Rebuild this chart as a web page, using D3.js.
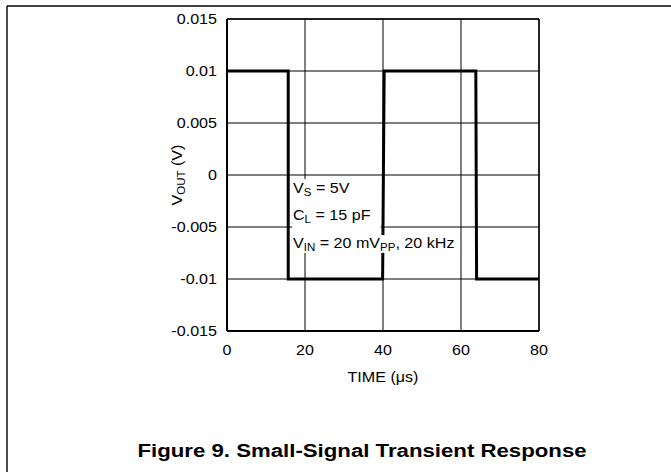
<!DOCTYPE html>
<html>
<head>
<meta charset="utf-8">
<script src="https://cdn.jsdelivr.net/npm/d3@7"></script>
<style>
  body { margin: 0; background: #fff; }
  svg text { font-family: "Liberation Sans", Arial, sans-serif; fill: #000; }
</style>
</head>
<body>
<svg id="chart" width="671" height="472"></svg>
<script>
// waveform
const timeUs = [0, 15.7, 15.7, 39.9, 40.3, 63.8, 64.0, 80];
const voutV = [0.01, 0.01, -0.01, -0.01, 0.01, 0.01, -0.01, -0.01];
const xTicks = [0, 20, 40, 60, 80];
const yTicks = [-0.015, -0.01, -0.005, 0, 0.005, 0.01, 0.015];
const yTickLabels = ['-0.015', '-0.01', '-0.005', '0', '0.005', '0.01', '0.015'];
const noteLines = [
  [['V', ''], ['S', 'sub'], [' = 5V', '']],
  [['C', ''], ['L', 'sub'], [' = 15 pF', '']],
  [['V', ''], ['IN', 'sub'], [' = 20 mV', ''], ['PP', 'sub'], [', 20 kHz', '']]
];

var margin = {top: 19, right: 132, bottom: 141, left: 227},
  width = 671 - margin.left - margin.right,
  height = 472 - margin.top - margin.bottom;

// the source figure's type is a bit wider than Liberation Sans
const stretch = 1.15;

const svg = d3.select('#chart');

// text at (px,py), widened around its anchor
function label(parent, px, py, str, size, anchor) {
  return parent.append('g')
    .attr('transform', `translate(${px},${py}) scale(${stretch},1)`)
    .append('text')
    .attr('text-anchor', anchor || 'start')
    .attr('font-size', size)
    .text(str);
}

// page frame
svg.append('line').attr('x1', 7).attr('x2', 671).attr('y1', 6).attr('y2', 6)
  .attr('stroke', '#000').attr('stroke-width', 1.4);
svg.append('line').attr('x1', 7).attr('x2', 7).attr('y1', 6).attr('y2', 472)
  .attr('stroke', '#000').attr('stroke-width', 1.4);

const g = svg.append('g').attr('transform', `translate(${margin.left},${margin.top})`);

const x = d3.scaleLinear().domain([0, 80]).range([0, width]);
const y = d3.scaleLinear().domain([-0.015, 0.015]).range([height, 0]);

// grid
g.selectAll('.vgrid').data(xTicks).join('line')
  .attr('x1', d => x(d)).attr('x2', d => x(d)).attr('y1', 0).attr('y2', height)
  .attr('stroke', '#000').attr('stroke-width', 1);
g.selectAll('.hgrid').data(yTicks).join('line')
  .attr('x1', 0).attr('x2', width).attr('y1', d => y(d)).attr('y2', d => y(d))
  .attr('stroke', '#000').attr('stroke-width', 1);

// frame: left and bottom heavier
g.append('line').attr('x1', 0).attr('x2', 0).attr('y1', 0).attr('y2', height)
  .attr('stroke', '#000').attr('stroke-width', 2);
g.append('line').attr('x1', 0).attr('x2', width).attr('y1', height).attr('y2', height)
  .attr('stroke', '#000').attr('stroke-width', 2);
g.append('line').attr('x1', width).attr('x2', width).attr('y1', 0).attr('y2', height)
  .attr('stroke', '#000').attr('stroke-width', 1.4);
g.append('line').attr('x1', 0).attr('x2', width).attr('y1', 0).attr('y2', 0)
  .attr('stroke', '#000').attr('stroke-width', 1.4);

// waveform
const pts = timeUs.map((t, i) => [t, voutV[i]]);
g.append('path')
  .datum(pts)
  .attr('fill', 'none')
  .attr('stroke', '#000')
  .attr('stroke-width', 3)
  .attr('stroke-linejoin', 'miter')
  .attr('d', d3.line().x(d => x(d[0])).y(d => y(d[1])));

// tick labels
xTicks.forEach(d => label(g, x(d), height + 24, d, 14, 'middle'));
yTicks.forEach((d, i) => label(g, -10, y(d) + 5, yTickLabels[i], 14, 'end'));

// axis titles
label(g, width / 2, height + 51, 'TIME (\u03bcs)', 14, 'middle');

const yt = g.append('g')
  .attr('transform', `translate(-45,${height / 2}) rotate(-90) scale(${stretch},1)`)
  .append('text')
  .attr('text-anchor', 'middle').attr('font-size', 14);
yt.append('tspan').text('V');
yt.append('tspan').attr('font-size', 10).attr('dy', 3).text('OUT');
yt.append('tspan').attr('dy', -3).text(' (V)');

// condition note with white backing
const noteX = 66, noteY = [174, 201, 229];
const bg = g.append('g');
const texts = noteLines.map((parts, i) => {
  const t = g.append('g')
    .attr('transform', `translate(${noteX},${noteY[i]}) scale(${stretch},1)`)
    .append('text').attr('font-size', 14);
  let shifted = false;
  parts.forEach(p => {
    const s = t.append('tspan').text(p[0]);
    if (p[1] === 'sub' && !shifted) { s.attr('font-size', 10).attr('dy', 3); shifted = true; }
    else if (p[1] === 'sub') { s.attr('font-size', 10); }
    else if (shifted) { s.attr('dy', -3); shifted = false; }
  });
  return t;
});
const b0 = texts[0].node().getBBox();
const b2 = texts[2].node().getBBox();
bg.append('rect')
  .attr('x', noteX - 1).attr('y', noteY[0] + b0.y - 1)
  .attr('width', x(39.9) - 2 - (noteX - 1)).attr('height', noteY[2] - noteY[0] + b2.y - b0.y + 1)
  .attr('fill', '#fff');
bg.append('rect')
  .attr('x', noteX - 1).attr('y', noteY[2] + b2.y)
  .attr('width', b2.width * stretch + 2).attr('height', b2.height)
  .attr('fill', '#fff');

// figure caption
svg.append('g')
  .attr('transform', `translate(362,457) scale(1.17,1)`)
  .append('text')
  .attr('text-anchor', 'middle')
  .attr('font-size', 19).attr('font-weight', 'bold')
  .text('Figure 9. Small-Signal Transient Response');
</script>
</body>
</html>
